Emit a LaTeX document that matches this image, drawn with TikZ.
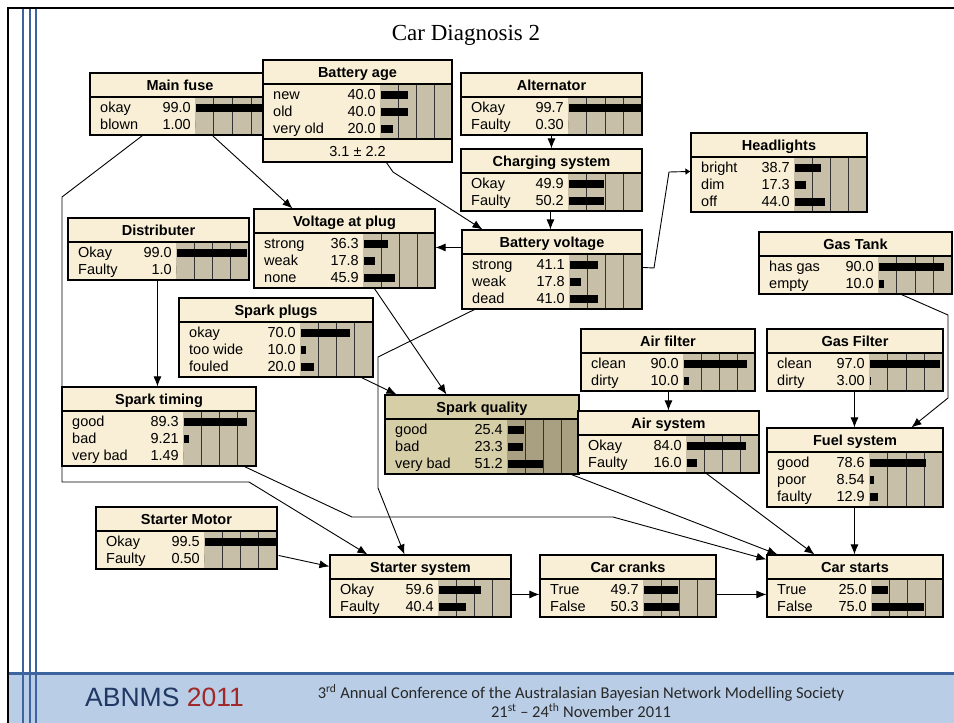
\documentclass[tikz,border=0pt]{standalone}
\usepackage{fontspec}
\setmainfont{Liberation Sans}
\newfontfamily\seriffont{Liberation Serif}
\newfontfamily\calfont{Carlito}
\usetikzlibrary{arrows.meta,fit,calc}

\definecolor{ndhead}{RGB}{248,239,214}
\definecolor{ndbar}{RGB}{200,191,168}
\definecolor{sqhead}{RGB}{214,206,166}
\definecolor{sqbar}{RGB}{168,160,128}
\definecolor{stripe}{RGB}{62,100,160}
\definecolor{band}{RGB}{185,206,230}
\definecolor{abnmsblue}{RGB}{31,56,100}
\definecolor{abnmsred}{RGB}{160,40,40}
\definecolor{confgray}{RGB}{40,40,40}

\tikzset{
  boxline/.style={draw=black, line width=1.1pt},
  colline/.style={draw=black!80, line width=0.9pt},
  titletext/.style={font=\fontsize{14.5}{16}\selectfont\bfseries, inner sep=0pt},
  rowtext/.style={font=\fontsize{14.5}{16}\selectfont, inner sep=0pt},
  arr/.style={draw=black, line width=0.9pt, -{Latex[length=10pt,width=8pt]}},
  smallarr/.style={draw=black, line width=0.9pt, -{Latex[length=5pt,width=7pt]}},
}

% extra height below the state rows (used for a summary line)
\newcommand\bnextra{0}
% #1 name, #2 left, #3 top, #4 right, #5 left of bar area, #6 rows,
% #7 title, #8 label/value/percent list, #9 colour prefix
\newcommand\bnbox[9]{%
  \pgfmathsetmacro\bnHB{#3+24}%
  \pgfmathsetmacro\bnRB{\bnHB+17*#6+4}%
  \pgfmathsetmacro\bnBot{\bnRB+\bnextra}%
  \pgfmathsetmacro\bnW{#4-#5}%
  \fill[#9head] (#2,#3) rectangle (#4,\bnBot);
  \fill[#9bar] (#5,\bnHB) rectangle (#4,\bnRB);
  \foreach \k in {1,2,3} \draw[colline] ({#5+\k*\bnW/4},\bnHB) -- ({#5+\k*\bnW/4},\bnRB);
  \draw[boxline] (#2,\bnHB) -- (#4,\bnHB);
  \node[titletext, anchor=base] at ({(#2+#4)/2},{#3+17.5}) {#7};
  \foreach \lab/\val/\pct [count=\i] in {#8} {
    \pgfmathsetmacro\yy{\bnHB+2+17*\i-8.5}
    \pgfmathsetmacro\bw{max(\pct*\bnW/100-1.5,0)}
    \node[rowtext,anchor=base west] at (#2+10,\yy+5) {\lab};
    \node[rowtext,anchor=base east] at (#5-4,\yy+5) {\val};
    \fill (#5+0.5,\yy-4) rectangle (#5+0.5+\bw,\yy+4);
  }
  \node[fit={(#2,#3) (#4,\bnBot)}, inner sep=0pt, boxline] (#1) {};
}

\begin{document}
\begin{tikzpicture}[x=1pt,y=-1pt]
\useasboundingbox (0,0) rectangle (954,723);
\fill[white] (0,0) rectangle (954,723);

% slide frame and footer band
\fill[band] (8,673) rectangle (954,723);
\draw[stripe, line width=3pt] (8,673) -- (954,673);
\foreach \sx in {23,30,36} \draw[stripe, line width=2.5pt] (\sx,8) -- (\sx,723);
\draw[black, line width=2.5pt] (8,723) -- (8,8) -- (954,8);

\node[font=\fontsize{23}{26}\seriffont] (title) at (466,35) {Car Diagnosis 2};

\node[anchor=west, inner sep=0pt, font=\fontsize{26.5}{28}\selectfont] (abnms) at (85,697)
  {\textcolor{abnmsblue}{ABNMS} \textcolor{abnmsred}{2011}};
\node[align=center, inner sep=0pt, text=confgray, font=\fontsize{16.5}{19.5}\calfont] (conf) at (581,701)
  {3\textsuperscript{rd} Annual Conference of the Australasian Bayesian Network Modelling Society\\
   21\textsuperscript{st} – 24\textsuperscript{th} November 2011};

% network nodes
\bnbox{mf}{90}{73}{270}{195}{2}{Main fuse}{okay/99.0/99.0, blown/1.00/1.0}{nd}
\renewcommand\bnextra{23}
\bnbox{ba}{263}{60}{452}{380}{3}{Battery age}{new/40.0/40.0, old/40.0/40.0, very old/20.0/20.0}{nd}
\renewcommand\bnextra{0}
\draw[boxline] (263,139) -- (452,139);
\node[rowtext, anchor=base] (basum) at (357.5,156) {3.1 ± 2.2};
\bnbox{alt}{461}{73}{642}{568}{2}{Alternator}{Okay/99.7/99.7, Faulty/0.30/0.3}{nd}
\bnbox{cs}{461}{149}{642}{568}{2}{Charging system}{Okay/49.9/49.9, Faulty/50.2/50.2}{nd}
\bnbox{hl}{691}{133}{867}{794}{3}{Headlights}{bright/38.7/38.7, dim/17.3/17.3, off/44.0/44.0}{nd}
\bnbox{bv}{462}{230}{642}{569}{3}{Battery voltage}{strong/41.1/41.1, weak/17.8/17.8, dead/41.0/41.0}{nd}
\bnbox{vp}{254}{209}{435}{363}{3}{Voltage at plug}{strong/36.3/36.3, weak/17.8/17.8, none/45.9/45.9}{nd}
\bnbox{dist}{68}{218}{249}{176}{2}{Distributer}{Okay/99.0/99.0, Faulty/1.0/1.0}{nd}
\bnbox{gt}{759}{232}{952}{878}{2}{Gas Tank}{has gas/90.0/90.0, empty/10.0/10.0}{nd}
\bnbox{sp}{179}{298}{373}{300}{3}{Spark plugs}{okay/70.0/70.0, too wide/10.0/10.0, fouled/20.0/20.0}{nd}
\bnbox{af}{581}{329}{755}{683}{2}{Air filter}{clean/90.0/90.0, dirty/10.0/10.0}{nd}
\bnbox{gf}{767}{329}{943}{869}{2}{Gas Filter}{clean/97.0/97.0, dirty/3.00/3.0}{nd}
\bnbox{st}{62}{387}{256}{183}{3}{Spark timing}{good/89.3/89.3, bad/9.21/9.21, very bad/1.49/1.49}{nd}
\bnbox{sq}{385}{395}{579}{507}{3}{Spark quality}{good/25.4/25.4, bad/23.3/23.3, very bad/51.2/51.2}{sq}
\bnbox{as}{578}{411}{759}{686}{2}{Air system}{Okay/84.0/84.0, Faulty/16.0/16.0}{nd}
\bnbox{fs}{767}{428}{943}{869}{3}{Fuel system}{good/78.6/78.6, poor/8.54/8.54, faulty/12.9/12.9}{nd}
\bnbox{sm}{96}{507}{277}{204}{2}{Starter Motor}{Okay/99.5/99.5, Faulty/0.50/0.5}{nd}
\bnbox{ss}{330}{555}{511}{438}{2}{Starter system}{Okay/59.6/59.6, Faulty/40.4/40.4}{nd}
\bnbox{cc}{540}{555}{716}{643}{2}{Car cranks}{True/49.7/49.7, False/50.3/50.3}{nd}
\bnbox{cst}{767}{555}{943}{871}{2}{Car starts}{True/25.0/25.0, False/75.0/75.0}{nd}

% connectors
\draw[arr] ($(mf.south west)+(123,0)$) -- ($(vp.north west)+(39,0)$);
\draw[arr] ($(mf.south west)+(53,0)$) -- (62,197) -- (62,482) -- (249,482) -- ($(ss.north west)+(38,0)$);
\draw[arr] ($(ba.south west)+(124,0)$) -- (393,172) -- ($(bv.north west)+(21,0)$);
\draw[arr] ($(alt.south west)+(91,0)$) -- ($(cs.north west)+(91,0)$);
\draw[arr] ($(cs.south west)+(90,0)$) -- ($(bv.north west)+(89,0)$);
\draw[arr] ($(bv.north west)+(0,18)$) -- ($(vp.north east)+(0,39)$);
\draw[smallarr] ($(bv.north east)+(0,38)$) -- (654,268) -- (669,172) -- ($(hl.north west)+(0,39)$);
\draw[arr] ($(bv.south west)+(13,0)$) -- (378,357) -- (378,488) -- ($(ss.north west)+(75,0)$);
\draw[arr] ($(dist.south west)+(90,0)$) -- ($(st.north west)+(96,0)$);
\draw[arr] ($(vp.south west)+(121,0)$) -- ($(sq.north west)+(62,0)$);
\draw[arr] ($(sp.south west)+(183,0)$) -- ($(sq.north west)+(12,0)$);
\draw[arr] ($(st.south west)+(183,0)$) -- (352,517) -- (613,517) -- ($(cst.north west)+(0,5)$);
\draw[arr] ($(sq.south east)+(-8,0)$) -- ($(cst.north west)+(11,0)$);
\draw[arr] ($(as.south west)+(129,0)$) -- ($(cst.north west)+(48,0)$);
\draw[arr] ($(fs.south west)+(88,0)$) -- ($(cst.north west)+(88,0)$);
\draw[arr] ($(af.south west)+(88,0)$) -- ($(as.north west)+(91,0)$);
\draw[arr] ($(gf.south west)+(88,0)$) -- ($(fs.north west)+(88,0)$);
\draw[arr] ($(gt.south west)+(143,0)$) -- (948,315) -- (948,398) -- ($(fs.north west)+(145,0)$);
\draw[arr] ($(sm.north east)+(1,49)$) -- ($(ss.north west)+(0,12)$);
\draw[arr] ($(ss.north east)+(0,40)$) -- ($(cc.north west)+(0,40)$);
\draw[arr] ($(cc.north east)+(0,40)$) -- ($(cst.north west)+(0,40)$);
\end{tikzpicture}
\end{document}
